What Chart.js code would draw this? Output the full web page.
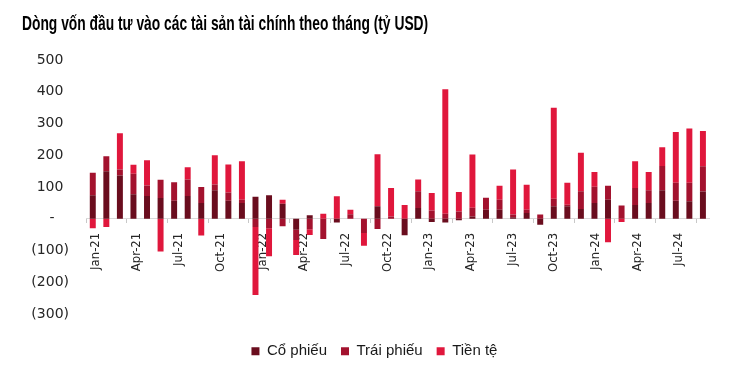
<!DOCTYPE html>
<html>
<head>
<meta charset="utf-8">
<script src="https://cdn.jsdelivr.net/npm/chart.js@4.4.1/dist/chart.umd.min.js"></script>
<style>
  html, body { margin: 0; padding: 0; background: #fff; }
  #wrap { position: relative; width: 735px; height: 375px; overflow: hidden; }
  #title { position: absolute; left: 22px; top: 12px; white-space: nowrap; font: bold 21px/21px "Liberation Sans", Arial, sans-serif; color: #000; transform-origin: 0 0; }
  canvas { position: absolute; left: 0; top: 0; }
</style>
</head>
<body>
<div id="wrap">
  <canvas id="c" width="735" height="375"></canvas>
  <div id="title">Dòng vốn đầu tư vào các tài sản tài chính theo tháng (tỷ USD)</div>
</div>
<script>
const months = [
  "Jan-21","Feb-21","Mar-21","Apr-21","May-21","Jun-21","Jul-21","Aug-21","Sep-21","Oct-21","Nov-21","Dec-21",
  "Jan-22","Feb-22","Mar-22","Apr-22","May-22","Jun-22","Jul-22","Aug-22","Sep-22","Oct-22","Nov-22","Dec-22",
  "Jan-23","Feb-23","Mar-23","Apr-23","May-23","Jun-23","Jul-23","Aug-23","Sep-23","Oct-23","Nov-23","Dec-23",
  "Jan-24","Feb-24","Mar-24","Apr-24","May-24","Jun-24","Jul-24","Aug-24","Sep-24","Oct-24"
];
const coPhieu = [
  74,150,136,77,72,65,57,72,50,90,57,50,
  69,74,47,-35,11,0,-12,0,0,39,0,-52,
  34,-10,-12,-5,7,28,28,5,18,-19,39,39,
  31,50,60,0,43,50,90,57,55,86
];
const traiPhieu = [
  71,47,19,65,33,58,58,52,50,18,26,10,
  -26,-30,-24,-32,-33,-64,0,14,-45,-32,7,0,
  53,26,16,23,28,38,32,8,10,13,24,5,
  56,51,44,42,54,40,76,56,58,79
];
const tienTe = [
  -30,-26,114,28,79,-103,0,38,-53,92,88,121,
  -214,-88,13,-47,-18,16,71,14,-40,164,90,43,
  37,55,392,61,167,0,44,142,79,0,287,69,
  121,46,-74,-10,84,57,59,160,171,111
];
const yTicks = [500,400,300,200,100,0,-100,-200,-300];
const labelMonths = [0,3,6,9,12,15,18,21,24,27,30,33,36,39,42];
const seriesNames = ["Cổ phiếu","Trái phiếu","Tiền tệ"];
const seriesColors = ["#6a0d1e","#a3122e","#e0173c"];

const t = document.getElementById('title');
t.style.transform = 'scaleX(' + (406 / t.offsetWidth) + ')';

const fmtY = v => {
  if (v === 0) return '-\u2007\u2009\u2009';
  if (v < 0) return '(' + Math.abs(v) + ')';
  return v + '\u2009\u2009';
};

const legendShift = {
  id: 'legendShift',
  afterLayout(chart) {
    const l = chart.legend;
    if (l) { l.left += 12.6; l.right += 12.6; }
  }
};

new Chart(document.getElementById('c'), {
  type: 'bar',
  data: {
    labels: months,
    datasets: [coPhieu, traiPhieu, tienTe].map((d, i) => ({
      label: seriesNames[i],
      data: d,
      backgroundColor: seriesColors[i],
      borderWidth: 0,
      barPercentage: 0.44,
      categoryPercentage: 1,
      xAxisID: 'x',
      yAxisID: 'y'
    }))
  },
  plugins: [legendShift],
  options: {
    responsive: false,
    animation: false,
    layout: { padding: { left: 14, right: 25.3, top: 60, bottom: 6.2 } },
    plugins: {
      legend: {
        position: 'bottom',
        align: 'center',
        title: { display: true, text: '', font: { size: 1 }, padding: { top: 14.6, bottom: 0 } },
        labels: {
          boxWidth: 8, boxHeight: 8, padding: 14,
          color: '#1a1a1a',
          font: { family: '"Liberation Sans", Arial, sans-serif', size: 15 }
        }
      },
      tooltip: { enabled: false }
    },
    scales: {
      x: {
        type: 'category',
        stacked: true,
        offset: true,
        position: { y: 0 },
        ticks: { display: false },
        grid: {
          display: true, drawOnChartArea: false, drawTicks: true, tickLength: 4, offset: true,
          color: ctx => (ctx.index % 3 === 0 ? '#c8c8c8' : 'rgba(0,0,0,0)')
        },
        border: { display: true, color: '#d9d9d9', width: 1 }
      },
      xl: {
        type: 'linear',
        axis: 'x',
        offset: false,
        bounds: 'data',
        position: { y: 0 },
        min: -0.675,
        max: 44.2,
        afterBuildTicks: s => { s.ticks = labelMonths.map(v => ({ value: v })); },
        ticks: {
          autoSkip: false, minRotation: 90, maxRotation: 90, padding: 14,
          color: '#262626',
          font: { family: '"Liberation Sans Narrow", "DejaVu Sans Condensed", sans-serif', size: 13 },
          callback: v => months[v]
        },
        grid: { display: false, drawTicks: false, offset: false },
        border: { display: false }
      },
      y: {
        stacked: true,
        min: -300,
        max: 500,
        afterBuildTicks: s => { s.ticks = yTicks.map(v => ({ value: v })); },
        afterFit: s => { s.width = 72; },
        ticks: {
          padding: 17,
          color: '#262626',
          font: { family: '"DejaVu Sans", sans-serif', size: 14 },
          callback: v => fmtY(v)
        },
        grid: { display: false, drawTicks: false },
        border: { display: false }
      }
    }
  }
});
</script>
</body>
</html>
